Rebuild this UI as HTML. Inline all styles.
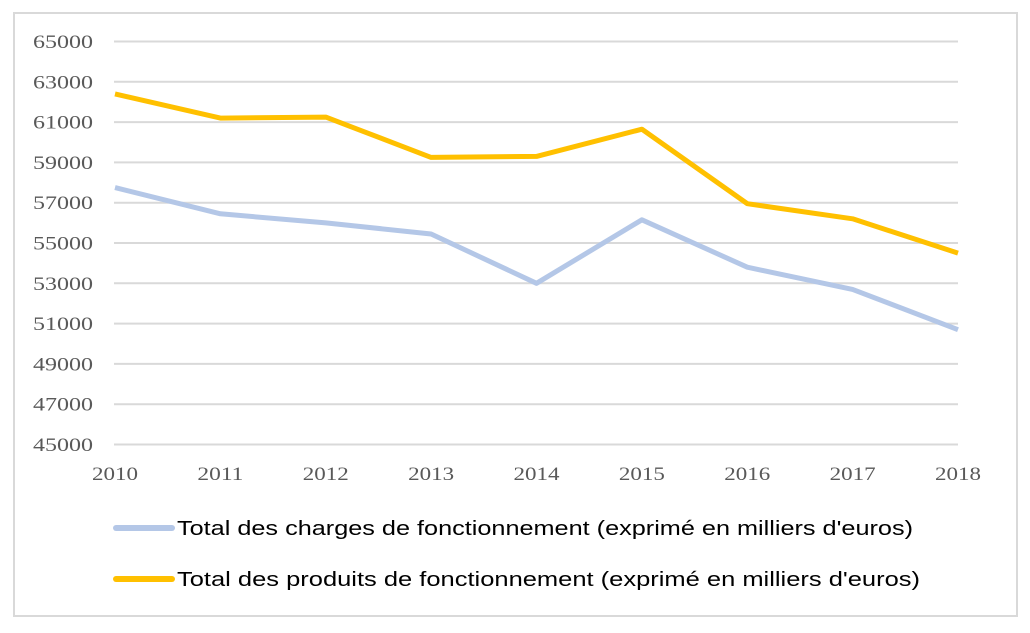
<!DOCTYPE html>
<html><head><meta charset="utf-8"><style>body{margin:0;background:#fff}</style></head><body>
<svg width="1030" height="628" xmlns="http://www.w3.org/2000/svg">
<rect x="14" y="13" width="1003" height="603" fill="#fff" stroke="#d9d9d9" stroke-width="2"/>
<g stroke="#d9d9d9" stroke-width="2">
<line x1="114" x2="958" y1="41.5" y2="41.5"/><line x1="114" x2="958" y1="81.8" y2="81.8"/><line x1="114" x2="958" y1="122.1" y2="122.1"/><line x1="114" x2="958" y1="162.4" y2="162.4"/><line x1="114" x2="958" y1="202.7" y2="202.7"/><line x1="114" x2="958" y1="243" y2="243"/><line x1="114" x2="958" y1="283.3" y2="283.3"/><line x1="114" x2="958" y1="323.6" y2="323.6"/><line x1="114" x2="958" y1="363.9" y2="363.9"/><line x1="114" x2="958" y1="404.2" y2="404.2"/><line x1="114" x2="958" y1="444.5" y2="444.5"/>
</g>
<g font-family="Liberation Serif, serif" font-size="19" fill="#595959" text-anchor="end">
<text x="93" y="48" textLength="60" lengthAdjust="spacingAndGlyphs">65000</text><text x="93" y="88.3" textLength="60" lengthAdjust="spacingAndGlyphs">63000</text><text x="93" y="128.6" textLength="60" lengthAdjust="spacingAndGlyphs">61000</text><text x="93" y="168.9" textLength="60" lengthAdjust="spacingAndGlyphs">59000</text><text x="93" y="209.2" textLength="60" lengthAdjust="spacingAndGlyphs">57000</text><text x="93" y="249.5" textLength="60" lengthAdjust="spacingAndGlyphs">55000</text><text x="93" y="289.8" textLength="60" lengthAdjust="spacingAndGlyphs">53000</text><text x="93" y="330.1" textLength="60" lengthAdjust="spacingAndGlyphs">51000</text><text x="93" y="370.4" textLength="60" lengthAdjust="spacingAndGlyphs">49000</text><text x="93" y="410.7" textLength="60" lengthAdjust="spacingAndGlyphs">47000</text><text x="93" y="451" textLength="60" lengthAdjust="spacingAndGlyphs">45000</text>
</g>
<g font-family="Liberation Serif, serif" font-size="19" fill="#595959" text-anchor="middle">
<text x="115" y="480" textLength="46" lengthAdjust="spacingAndGlyphs">2010</text><text x="220.4" y="480" textLength="46" lengthAdjust="spacingAndGlyphs">2011</text><text x="325.8" y="480" textLength="46" lengthAdjust="spacingAndGlyphs">2012</text><text x="431.1" y="480" textLength="46" lengthAdjust="spacingAndGlyphs">2013</text><text x="536.5" y="480" textLength="46" lengthAdjust="spacingAndGlyphs">2014</text><text x="641.9" y="480" textLength="46" lengthAdjust="spacingAndGlyphs">2015</text><text x="747.3" y="480" textLength="46" lengthAdjust="spacingAndGlyphs">2016</text><text x="852.6" y="480" textLength="46" lengthAdjust="spacingAndGlyphs">2017</text><text x="958" y="480" textLength="46" lengthAdjust="spacingAndGlyphs">2018</text>
</g>
<polyline fill="none" stroke="#b4c7e7" stroke-width="5" stroke-linejoin="round" points="115,187.6 220.4,213.8 325.8,222.9 431.1,234 536.5,283.3 641.9,219.8 747.3,267.2 852.6,289.4 958,329.7"/>
<polyline fill="none" stroke="#ffc000" stroke-width="5" stroke-linejoin="round" points="115,93.9 220.4,118.1 325.8,117.1 431.1,157.4 536.5,156.4 641.9,129.2 747.3,203.7 852.6,218.8 958,253.1"/>
<line x1="116" x2="172" y1="528" y2="528" stroke="#b4c7e7" stroke-width="6" stroke-linecap="round"/>
<line x1="116" x2="172" y1="579" y2="579" stroke="#ffc000" stroke-width="6" stroke-linecap="round"/>
<g font-family="Liberation Sans, sans-serif" font-size="20" fill="#000">
<text x="177" y="535" textLength="736" lengthAdjust="spacingAndGlyphs">Total des charges de fonctionnement (exprimé en milliers d'euros)</text>
<text x="177" y="586" textLength="743" lengthAdjust="spacingAndGlyphs">Total des produits de fonctionnement (exprimé en milliers d'euros)</text>
</g>
</svg>
</body></html>
